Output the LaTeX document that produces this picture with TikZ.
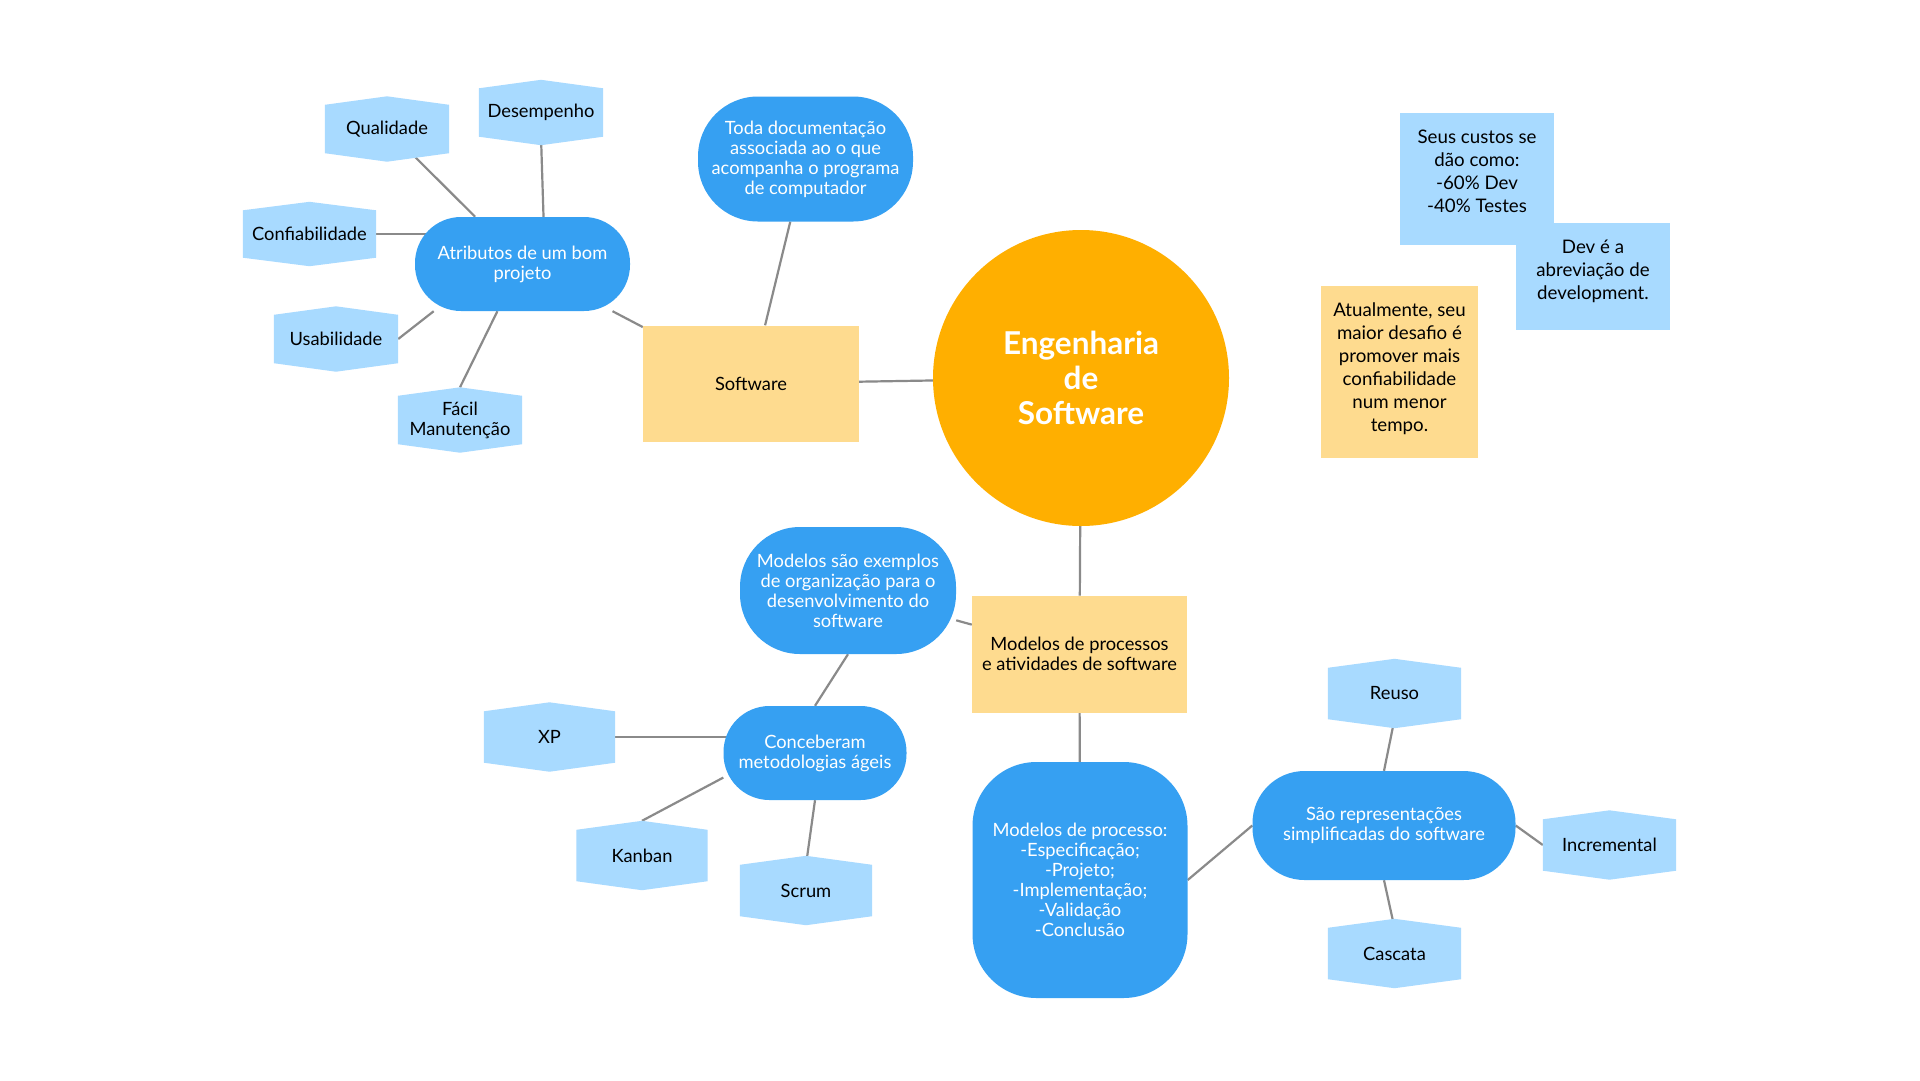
\documentclass[tikz,border=0pt]{standalone}
\usepackage{fontspec}
\setmainfont{Lato}
\definecolor{dblue}{RGB}{54,160,242}
\definecolor{lblue}{RGB}{168,218,255}
\definecolor{eorange}{RGB}{255,175,0}
\definecolor{ebeige}{RGB}{254,219,143}
\definecolor{lgray}{RGB}{138,138,138}
\pgfdeclarelayer{back}
\pgfdeclarelayer{lines}
\pgfdeclarelayer{shapes}
\pgfsetlayers{back,lines,shapes,main}
\newcommand\mmpf{\fontsize{18.3}{20}\selectfont}
\newcommand\mmnf{\fontsize{18.7}{23}\selectfont}
\newcommand\mmup[2]{\raisebox{#1}[\height][\depth]{\begin{tabular}{@{}c@{}}#2\end{tabular}}}
\newcommand\mmhex[2]{\fill[lblue] (#1.north west) -- ([yshift=#2]#1.north) -- (#1.north east)
  -- (#1.south east) -- ([yshift=-#2]#1.south) -- (#1.south west) -- cycle;}
\begin{document}
\begin{tikzpicture}[x=1pt,y=-1pt,
  link/.style={draw=lgray, line width=2.2pt},
  pill/.style={rectangle, fill=dblue, text=white, align=center, inner sep=0pt, font=\mmpf},
  hexa/.style={rectangle, text=black, align=center, inner sep=0pt, font=\mmpf},
  bbox/.style={rectangle, fill=ebeige, text=black, align=center, inner sep=0pt, font=\mmpf},
  notebox/.style={rectangle, inner sep=0pt, font=\mmnf}]
\begin{pgfonlayer}{back}
\fill[white] (0,0) rectangle (1920,1080);
\end{pgfonlayer}
\useasboundingbox (0,0) rectangle (1920,1080);

% central
\node[circle, fill=eorange, minimum size=296pt, inner sep=0pt, text=white, align=center,
  font={\fontsize{31.5}{35}\selectfont\bfseries}] (eng) at (1081,378) {Engenharia\\de\\Software};

% software branch
\node[bbox, minimum width=216pt, minimum height=116pt] (soft) at (751,383.5) {Software};
\node[pill, rounded corners=60pt, minimum width=215pt, minimum height=125pt] (toda) at (805.5,159)
  {Toda documentação\\associada ao o que\\acompanha o programa\\de computador};
\node[pill, rounded corners=46pt, minimum width=215pt, minimum height=94pt] (attr) at (522.5,264)
  {Atributos de um bom\\projeto};
\node[hexa, minimum width=124pt, minimum height=48pt] (qual) at (387,129) {Qualidade};
\node[hexa, minimum width=124pt, minimum height=48pt] (desemp) at (541,112.5) {Desempenho};
\node[hexa, minimum width=133pt, minimum height=47pt] (conf) at (309.5,234) {Confiabilidade};
\node[hexa, minimum width=124pt, minimum height=48pt] (usab) at (336,339) {Usabilidade};
\node[hexa, minimum width=124pt, minimum height=48pt] (facil) at (460,420) {Fácil\\Manutenção};

% notes
\node[notebox, fill=lblue, minimum width=154pt, minimum height=132pt] (seus) at (1477,179)
  {\mmup{6pt}{Seus custos se\\dão como:\\-60\% Dev\\-40\% Testes}};
\node[notebox, fill=lblue, minimum width=154pt, minimum height=107pt] (dev) at (1593,276.5)
  {\mmup{5pt}{Dev é a\\abreviação de\\development.}};
\node[notebox, fill=ebeige, minimum width=157pt, minimum height=172pt] (atual) at (1399.5,372)
  {\mmup{2.5pt}{Atualmente, seu\\maior desafio é\\promover mais\\confiabilidade\\num menor\\tempo.}};

% process branch
\node[bbox, minimum width=215pt, minimum height=117pt] (procs) at (1079.5,654.3)
  {Modelos de processos\\e atividades de software};
\node[pill, rounded corners=60pt, minimum width=216pt, minimum height=127pt] (mse) at (848,590.5)
  {Modelos são exemplos\\de organização para o\\desenvolvimento do\\software};
\node[pill, rounded corners=46pt, minimum width=183pt, minimum height=94pt] (conc) at (815,753)
  {Conceberam\\metodologias ágeis};
\node[hexa, minimum width=131pt, minimum height=51pt] (xp) at (549.5,737) {XP};
\node[hexa, minimum width=131pt, minimum height=51pt] (kanban) at (642,855.5) {Kanban};
\node[hexa, minimum width=132pt, minimum height=51pt] (scrum) at (806,890.5) {Scrum};
\node[pill, rounded corners=64pt, minimum width=215pt, minimum height=236pt] (proc) at (1080,880)
  {Modelos de processo:\\-Especificação;\\-Projeto;\\-Implementação;\\-Validação\\-Conclusão};
\node[pill, rounded corners=52pt, minimum width=263pt, minimum height=109pt] (sao) at (1384,825.5)
  {São representações\\simplificadas do software};
\node[hexa, minimum width=133pt, minimum height=51pt] (reuso) at (1394.5,693.5) {Reuso};
\node[hexa, minimum width=133pt, minimum height=51pt] (incr) at (1609.5,845) {Incremental};
\node[hexa, minimum width=133pt, minimum height=51pt] (casc) at (1394.5,953.5) {Cascata};

\begin{pgfonlayer}{shapes}
\mmhex{qual}{8.5pt}
\mmhex{desemp}{8.5pt}
\mmhex{conf}{8.5pt}
\mmhex{usab}{8.5pt}
\mmhex{facil}{8.5pt}
\mmhex{xp}{9pt}
\mmhex{kanban}{9pt}
\mmhex{scrum}{9pt}
\mmhex{reuso}{9pt}
\mmhex{incr}{9pt}
\mmhex{casc}{9pt}
\end{pgfonlayer}

\begin{pgfonlayer}{lines}
\draw[link] (qual) -- (attr);
\draw[link] (desemp.south) -- (attr.66);
\draw[link] (conf) -- (conf -| attr);
\draw[link] (usab.east) -- (attr.208);
\draw[link] ([yshift=8.5pt]facil.north) -- (attr.242);
\draw[link] (attr) -- (soft);
\draw[link] (toda) -- (soft);
\draw[link] (soft) -- (eng);
\draw[link] (eng) -- (procs);
\draw[link] (mse) -- (procs);
\draw[link] (mse.south) -- (conc.north);
\draw[link] (xp) -- (xp -| conc);
\draw[link] ([yshift=9pt]kanban.north) -- (conc.195);
\draw[link] (scrum.north) -- (conc.south);
\draw[link] (procs) -- (proc);
\draw[link] (proc.east) -- (sao.west);
\draw[link] (reuso.south) -- (sao.north);
\draw[link] (sao.east) -- (incr.west);
\draw[link] (sao.south) -- (casc.north);
\end{pgfonlayer}
\end{tikzpicture}
\end{document}
